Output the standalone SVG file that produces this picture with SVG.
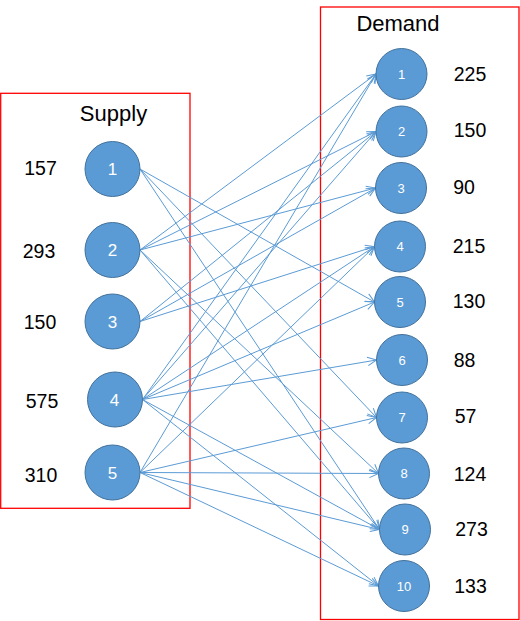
<svg xmlns="http://www.w3.org/2000/svg" width="520" height="621" viewBox="0 0 520 621">
<style>
.box{fill:none;stroke:#FF0000;stroke-width:1.3}
.node{fill:#5B9BD5;stroke:#41719C;stroke-width:1}
.lbl{font-family:"Liberation Sans",Arial,sans-serif;fill:#000;text-anchor:middle}
.val{font-size:19.5px}
.ttl{font-size:22px}
.sn{font-family:"Liberation Sans",Arial,sans-serif;fill:#fff;text-anchor:middle;font-size:17px}
.dn{font-family:"Liberation Sans",Arial,sans-serif;fill:#fff;text-anchor:middle;font-size:13px}
.c line{stroke:#5B9BD5;stroke-width:1;marker-end:url(#arr)}
</style>
<defs>
<marker id="arr" markerUnits="userSpaceOnUse" markerWidth="12" markerHeight="12" viewBox="-10 -6 12 12" refX="0" refY="0" orient="auto">
<path d="M-9,-4.2 L0,0 L-9,4.2" fill="none" stroke="#5B9BD5" stroke-width="1"/>
</marker>
</defs>
<rect width="520" height="621" fill="#fff"/>
<rect class="box" x="0.7" y="93.3" width="189.3" height="415"/>
<rect class="box" x="320.5" y="7" width="198.5" height="612.5"/>
<text class="lbl ttl" x="113.5" y="120.5">Supply</text>
<text class="lbl ttl" x="398" y="31">Demand</text>
<g class="c" id="connectors">
<line x1="140" y1="169" x2="374.5" y2="302"/>
<line x1="140" y1="169" x2="376.5" y2="417.5"/>
<line x1="140" y1="169" x2="379.5" y2="529.5"/>
<line x1="140" y1="250" x2="376" y2="74"/>
<line x1="140" y1="250" x2="376" y2="131.5"/>
<line x1="140" y1="250" x2="375.5" y2="188"/>
<line x1="140" y1="250" x2="378.5" y2="473.5"/>
<line x1="140" y1="250" x2="379.5" y2="529.5"/>
<line x1="140" y1="321.5" x2="376" y2="131.5"/>
<line x1="140" y1="321.5" x2="375.5" y2="188"/>
<line x1="140" y1="321.5" x2="374.5" y2="246.5"/>
<line x1="142.5" y1="399.5" x2="376" y2="74"/>
<line x1="142.5" y1="399.5" x2="376" y2="131.5"/>
<line x1="142.5" y1="399.5" x2="374.5" y2="246.5"/>
<line x1="142.5" y1="399.5" x2="374.5" y2="302"/>
<line x1="142.5" y1="399.5" x2="376.5" y2="360"/>
<line x1="142.5" y1="399.5" x2="379.5" y2="529.5"/>
<line x1="142.5" y1="399.5" x2="378.5" y2="586"/>
<line x1="140" y1="472.5" x2="376" y2="74"/>
<line x1="140" y1="472.5" x2="374.5" y2="246.5"/>
<line x1="140" y1="472.5" x2="376.5" y2="417.5"/>
<line x1="140" y1="472.5" x2="378.5" y2="473.5"/>
<line x1="140" y1="472.5" x2="379.5" y2="529.5"/>
<line x1="140" y1="472.5" x2="378.5" y2="586"/>
</g>
<g id="s1"><circle class="node" cx="112.5" cy="169" r="27.5"/><text class="sn" x="112.5" y="175">1</text><text class="lbl val" x="40.5" y="175">157</text></g>
<g id="s2"><circle class="node" cx="112.5" cy="250" r="27.5"/><text class="sn" x="112.5" y="256">2</text><text class="lbl val" x="39" y="258">293</text></g>
<g id="s3"><circle class="node" cx="112.5" cy="321.5" r="27.5"/><text class="sn" x="112.5" y="327.5">3</text><text class="lbl val" x="40" y="329">150</text></g>
<g id="s4"><circle class="node" cx="115" cy="399.5" r="27.5"/><text class="sn" x="114.5" y="405.5">4</text><text class="lbl val" x="42" y="408">575</text></g>
<g id="s5"><circle class="node" cx="112.5" cy="472.5" r="27.5"/><text class="sn" x="112.5" y="478.5">5</text><text class="lbl val" x="41" y="482">310</text></g>
<g id="d1"><circle class="node" cx="401.5" cy="74" r="25.5"/><text class="dn" x="401.5" y="78.7">1</text><text class="lbl val" x="470" y="81">225</text></g>
<g id="d2"><circle class="node" cx="401.5" cy="131.5" r="25.5"/><text class="dn" x="401.5" y="136.2">2</text><text class="lbl val" x="470" y="137">150</text></g>
<g id="d3"><circle class="node" cx="401" cy="188" r="25.5"/><text class="dn" x="401" y="192.7">3</text><text class="lbl val" x="464" y="194">90</text></g>
<g id="d4"><circle class="node" cx="400" cy="246.5" r="25.5"/><text class="dn" x="400" y="251.2">4</text><text class="lbl val" x="469" y="253">215</text></g>
<g id="d5"><circle class="node" cx="400" cy="302" r="25.5"/><text class="dn" x="400" y="306.7">5</text><text class="lbl val" x="469" y="308">130</text></g>
<g id="d6"><circle class="node" cx="402" cy="360" r="25.5"/><text class="dn" x="402" y="364.7">6</text><text class="lbl val" x="464.5" y="367">88</text></g>
<g id="d7"><circle class="node" cx="402" cy="417.5" r="25.5"/><text class="dn" x="402" y="422.2">7</text><text class="lbl val" x="465.5" y="423">57</text></g>
<g id="d8"><circle class="node" cx="404" cy="473.5" r="25.5"/><text class="dn" x="404" y="478.2">8</text><text class="lbl val" x="470" y="481">124</text></g>
<g id="d9"><circle class="node" cx="405" cy="529.5" r="25.5"/><text class="dn" x="405" y="534.2">9</text><text class="lbl val" x="471.5" y="536">273</text></g>
<g id="d10"><circle class="node" cx="404" cy="586" r="25.5"/><text class="dn" x="404" y="590.7">10</text><text class="lbl val" x="470.5" y="593">133</text></g>
</svg>
